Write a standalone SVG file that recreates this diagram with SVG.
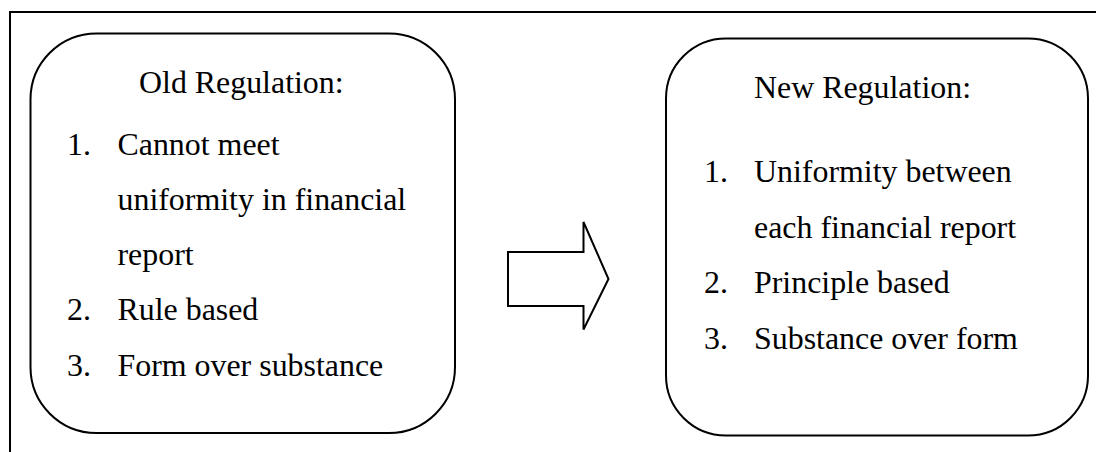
<svg xmlns="http://www.w3.org/2000/svg" width="1096" height="452" viewBox="0 0 1096 452">
<style>
.frame{fill:none;stroke:#000;stroke-width:2}
.box{fill:#fff;stroke:#000;stroke-width:2}
.t{font-family:"Liberation Serif","Times New Roman",serif;font-size:31.9px;fill:#000}
</style>
<rect width="1096" height="452" fill="#fff"/>
<path class="frame" d="M10,452 V12 H1096"/>
<g id="old">
<rect class="box" x="30.5" y="33.5" width="424.5" height="399.5" rx="66" ry="66"/>
<text class="t" x="139" y="93">Old Regulation:</text>
<text class="t" x="67" y="154.5">1.</text>
<text class="t" x="117.5" y="154.5">Cannot meet</text>
<text class="t" x="117.5" y="209.8">uniformity in financial</text>
<text class="t" x="117.5" y="265.1">report</text>
<text class="t" x="67" y="320.4">2.</text>
<text class="t" x="117.5" y="320.4">Rule based</text>
<text class="t" x="67" y="375.7">3.</text>
<text class="t" x="117.5" y="375.7">Form over substance</text>
</g>
<g id="connectors">
<path class="box" d="M508,252 H583.5 V222 L608.5,279 L583.5,329.5 V306 H508 Z"/>
</g>
<g id="new">
<rect class="box" x="666" y="38.5" width="422" height="397" rx="60" ry="60"/>
<text class="t" x="754" y="98">New Regulation:</text>
<text class="t" x="704" y="182">1.</text>
<text class="t" x="754" y="182">Uniformity between</text>
<text class="t" x="754" y="237.5">each financial report</text>
<text class="t" x="704" y="293">2.</text>
<text class="t" x="754" y="293">Principle based</text>
<text class="t" x="704" y="348.5">3.</text>
<text class="t" x="754" y="348.5">Substance over form</text>
</g>
</svg>
